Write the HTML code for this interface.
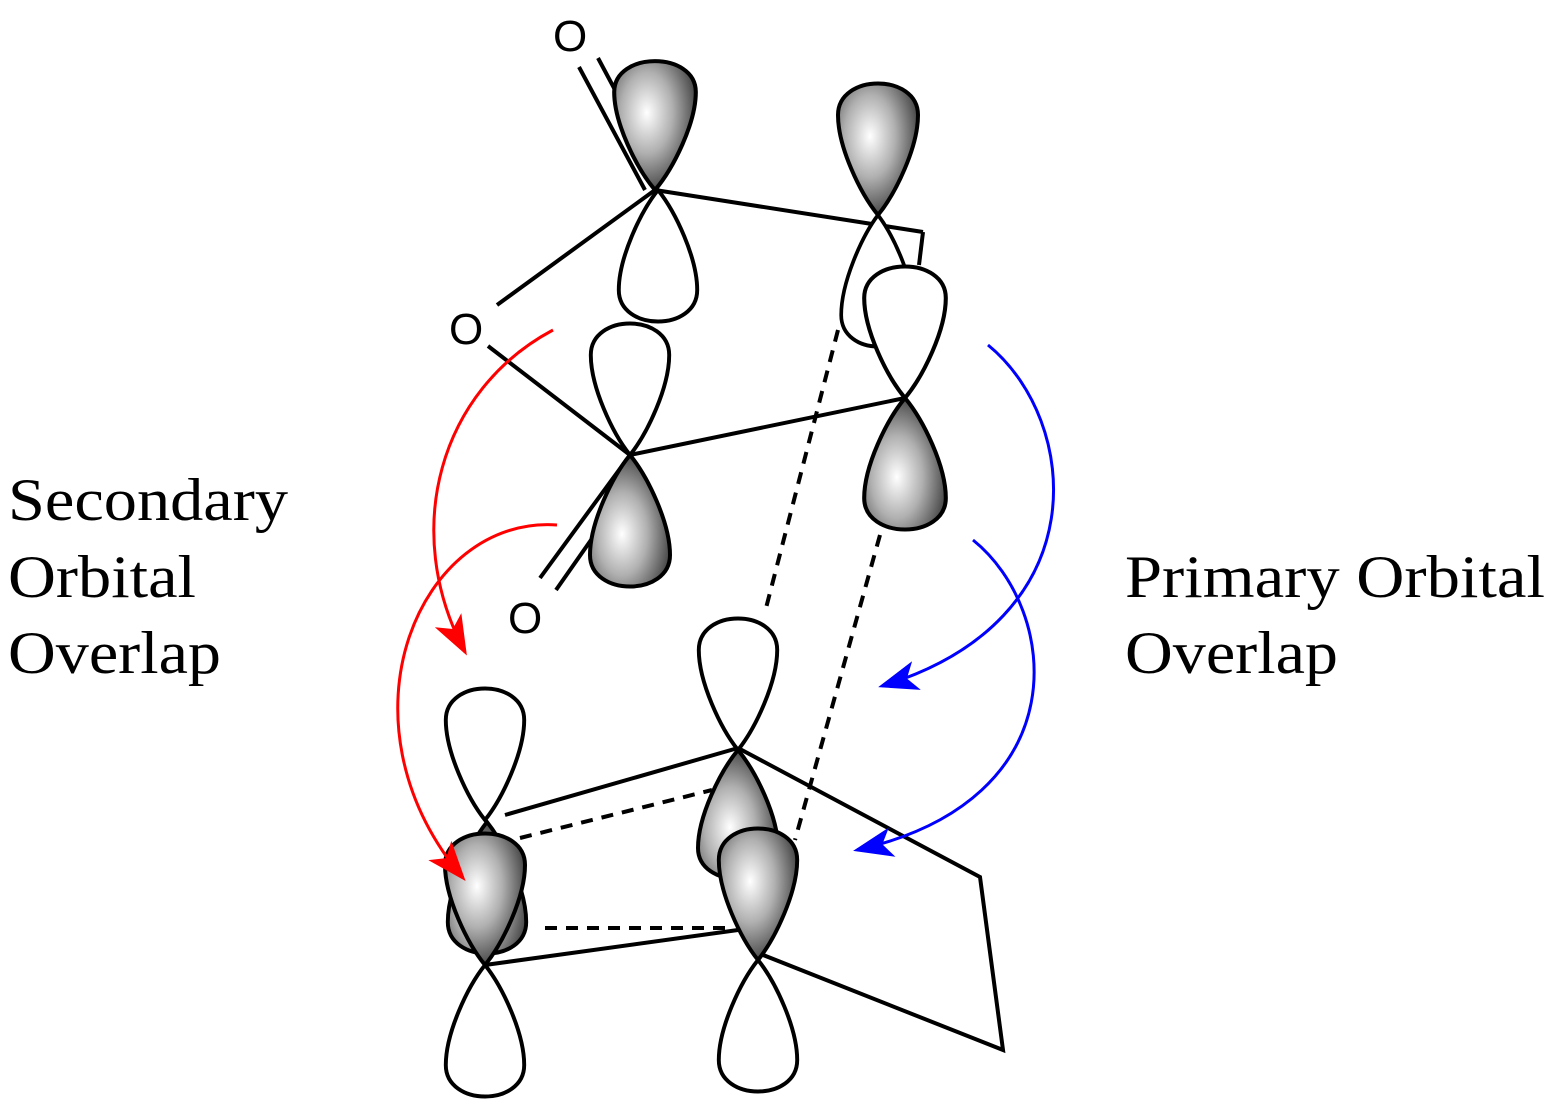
<!DOCTYPE html>
<html><head><meta charset="utf-8"><style>
html,body{margin:0;padding:0;background:#fff;}
svg{display:block;}
text{font-family:"Liberation Serif",serif;font-size:60px;fill:#000;}
.o{font-family:"Liberation Sans",sans-serif;font-size:44px;}
</style></head><body>
<svg width="1555" height="1115" viewBox="0 0 1555 1115" xmlns="http://www.w3.org/2000/svg">
<defs>
<radialGradient id="g" cx="0.4" cy="0.4" r="0.7">
<stop offset="0" stop-color="#ffffff"/><stop offset="0.45" stop-color="#b0b0b0"/><stop offset="1" stop-color="#2a2a2a"/>
</radialGradient>
<path id="L" d="M0,0 C-18,-22 -40,-68 -40,-100 C-40,-142 40,-142 40,-100 C40,-68 18,-22 0,0Z"/>
<marker id="ar" markerWidth="40" markerHeight="30" refX="36" refY="15" orient="auto" markerUnits="userSpaceOnUse" viewBox="0 0 40 30"><path d="M0,0 L40,15 L0,30 L10,15Z" fill="red"/></marker>
<marker id="ab" markerWidth="40" markerHeight="30" refX="36" refY="15" orient="auto" markerUnits="userSpaceOnUse" viewBox="0 0 40 30"><path d="M0,0 L40,15 L0,30 L10,15Z" fill="blue"/></marker>
</defs>
<g stroke="#000" stroke-width="4" fill="none">
<line x1="655" y1="190" x2="923" y2="232"/><line x1="923" y1="232" x2="919" y2="265"/>
<line x1="655" y1="190" x2="497" y2="305"/>
<line x1="488" y1="346" x2="630" y2="455"/>
<line x1="579" y1="67" x2="645" y2="190"/><line x1="598" y1="58" x2="662" y2="178"/>
<line x1="630" y1="455" x2="540" y2="578"/><line x1="640" y1="470" x2="556" y2="590"/>
<line x1="630" y1="455" x2="905" y2="398"/>
<line x1="838" y1="330" x2="765" y2="612" stroke-dasharray="12,9"/>
<line x1="880" y1="535" x2="795" y2="840" stroke-dasharray="12,9"/>
</g>
<g stroke="#000" stroke-width="4">
<use href="#L" transform="translate(655,190) scale(1.02,0.98)" fill="url(#g)"/>
<use href="#L" transform="translate(658,190) scale(0.98,-1.0)" fill="#fff"/>
<use href="#L" transform="translate(630,455) scale(0.98,1.0)" fill="#fff"/>
<use href="#L" transform="translate(630,455) scale(1.0,-1.0)" fill="url(#g)"/>
<use href="#L" transform="translate(878,215) scale(1.0,1.0)" fill="url(#g)"/>
<use href="#L" transform="translate(878,215) scale(0.92,-1.0)" fill="#fff"/>
<use href="#L" transform="translate(905,398) scale(1.02,1.0)" fill="#fff"/>
<use href="#L" transform="translate(905,398) scale(1.02,-1.0)" fill="url(#g)"/>
</g>
<g stroke="#000" stroke-width="4" fill="none">
<line x1="505" y1="815" x2="738" y2="748"/>
<polyline points="738,748 980,877 1003,1050 758,953"/>
<line x1="485" y1="965" x2="738" y2="930"/>
<line x1="520" y1="838" x2="712" y2="790" stroke-dasharray="12,9"/>
<line x1="545" y1="928" x2="728" y2="928" stroke-dasharray="12,9"/>
</g>
<g stroke="#000" stroke-width="4">
<use href="#L" transform="translate(738,750) scale(0.98,1.0)" fill="#fff"/>
<use href="#L" transform="translate(738,750) scale(1.0,-0.98)" fill="url(#g)"/>
<use href="#L" transform="translate(758,960) scale(0.98,1.0)" fill="url(#g)"/>
<use href="#L" transform="translate(758,960) scale(0.98,-1.0)" fill="#fff"/>
<use href="#L" transform="translate(485,820) scale(0.98,1.0)" fill="#fff"/>
<use href="#L" transform="translate(487,822) scale(0.98,-1.0)" fill="url(#g)"/>
<use href="#L" transform="translate(485,965) scale(1.0,1.0)" fill="url(#g)"/>
<use href="#L" transform="translate(485,965) scale(0.98,-1.0)" fill="#fff"/>
</g>
<g fill="none" stroke-width="3">
<path d="M553,330 C440,390 400,530 465,652" stroke="red" marker-end="url(#ar)"/>
<path d="M557,525 C420,515 330,720 463,878" stroke="red" marker-end="url(#ar)"/>
<path d="M988,345 C1080,420 1100,620 882,686" stroke="blue" marker-end="url(#ab)"/>
<path d="M973,540 C1060,610 1080,800 857,850" stroke="blue" marker-end="url(#ab)"/>
</g>
<text class="o" x="553" y="51">O</text>
<text class="o" x="449" y="344">O</text>
<text class="o" x="508" y="633">O</text>
<text x="8" y="520" textLength="280" lengthAdjust="spacingAndGlyphs">Secondary</text>
<text x="8" y="597" textLength="188" lengthAdjust="spacingAndGlyphs">Orbital</text>
<text x="8" y="673" textLength="213" lengthAdjust="spacingAndGlyphs">Overlap</text>
<text x="1125" y="597" textLength="420" lengthAdjust="spacingAndGlyphs">Primary Orbital</text>
<text x="1125" y="673" textLength="213" lengthAdjust="spacingAndGlyphs">Overlap</text>
</svg>
</body></html>
